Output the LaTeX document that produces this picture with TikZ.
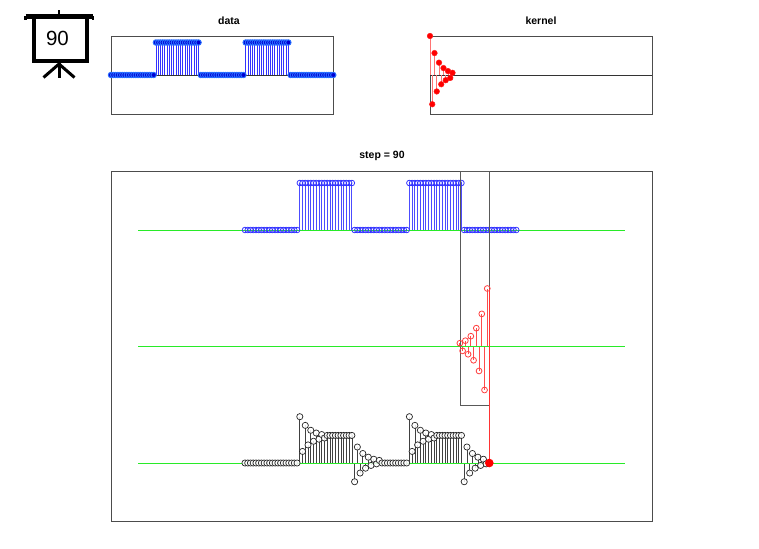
\documentclass[tikz,border=0pt]{standalone}
\usepackage{fontspec}
\setmainfont{Liberation Sans}
\begin{document}
\begin{tikzpicture}[x=1pt,y=-1pt,
  declare function={
    rp(\k)=(1-2*mod(\k,2))*pow(0.75,\k);
    xin(\n)=(\n>20)*(\n<41)+(\n>60)*(\n<81);
    sr(\m)=(\m>-1)*(1-rp(min(max(\m,0),10)+1))/1.75;
    yout(\n)=sr(\n-21)-sr(\n-41)+sr(\n-61)-sr(\n-81);
    xm(\n)=245+(\n-1)*2.74;
  }]
\tikzset{
  axbox/.style={draw=black!70, line width=0.9pt},
  ttl/.style={font=\bfseries\fontsize{10.5}{12}\selectfont, inner sep=0pt},
  dstemtop/.style={draw=blue!80, line width=0.8pt},
  dmarktop/.style={fill={rgb,255:red,0;green,0;blue,210}, draw={rgb,255:red,40;green,110;blue,255}, line width=1pt},
  kstemtop/.style={draw=red!55, line width=0.9pt},
  kmarktop/.style={fill=red, draw=red!90, line width=0.5pt},
  zeroline/.style={draw={rgb,255:red,40;green,235;blue,40}, line width=1pt},
  dstem/.style={draw=blue!70, line width=0.8pt},
  dmark/.style={draw=blue!80, line width=0.8pt},
  kstem/.style={draw=red!70, line width=0.8pt},
  kmark/.style={draw=red!75, line width=0.8pt},
  ostem/.style={draw=black!75, line width=0.7pt},
  omark/.style={draw=black!85, fill=white, fill opacity=0.85, line width=0.7pt},
  icon/.style={draw=black, line width=4pt},
}
\useasboundingbox (0,0) rectangle (759,548);
\fill[white] (0,0) rectangle (759,548);

% ---------- icon ----------
\draw[icon, line width=4.5pt] (25.5,16.3) -- (93,16.3);
\draw[icon, line width=2.5pt] (25.5,16.3) -- (25.5,20);
\draw[icon, line width=2.5pt] (93,16.3) -- (93,20);
\draw[icon, line width=2.5pt] (59,10.5) -- (59,16);
\draw[icon, line width=3.8pt] (33.8,16.3) rectangle (86.8,61.3);
\draw[icon, line width=3pt] (59,62) -- (59,78.5);
\draw[icon, line width=3pt] (59,64) -- (43.5,77.5);
\draw[icon, line width=3pt] (59,64) -- (74.5,77.5);
\node[inner sep=0pt, font=\fontsize{20.5}{22}\selectfont] (iconnum) at (57.5,38) {90};

% ---------- data panel ----------
\node[ttl] (tdata) at (229,21) {data};
\draw[axbox] (111,36) rectangle (333,114);
\draw[black!80, line width=0.9pt] (111,75) -- (333,75);
\foreach \n in {1,...,100}{
  \pgfmathsetmacro\xx{111+(\n-1)*2.245}
  \pgfmathsetmacro\yy{75-32.5*xin(\n)}
  \draw[dstemtop] (\xx,75) -- (\xx,\yy);
}
\foreach \n in {1,...,100}{
  \pgfmathsetmacro\xx{111+(\n-1)*2.245}
  \pgfmathsetmacro\yy{75-32.5*xin(\n)}
  \path[dmarktop] (\xx,\yy) circle[radius=2.7];
}

% ---------- kernel panel ----------
\node[ttl] (tkernel) at (541,21) {kernel};
\draw[axbox] (430,36) rectangle (652,114);
\draw[black!80, line width=0.9pt] (430,75) -- (652,75);
\foreach \j in {0,...,10}{
  \pgfmathsetmacro\xx{430+\j*2.25}
  \pgfmathsetmacro\yy{75-39*rp(\j)}
  \draw[kstemtop] (\xx,75) -- (\xx,\yy);
}
\foreach \j in {0,...,10}{
  \pgfmathsetmacro\xx{430+\j*2.25}
  \pgfmathsetmacro\yy{75-39*rp(\j)}
  \path[kmarktop] (\xx,\yy) circle[radius=2.8];
}

% ---------- main panel ----------
\node[ttl] (tstep) at (382,156) {step = 90};
\draw[axbox] (111,171) rectangle (652,521);

% data stems
\foreach \n in {1,...,100}{
  \pgfmathsetmacro\xx{xm(\n)}
  \pgfmathsetmacro\yy{230-47*xin(\n)}
  \draw[dstem] (\xx,230) -- (\xx,\yy);
}
% output stems
\foreach \n in {1,...,89}{
  \pgfmathsetmacro\xx{xm(\n)}
  \pgfmathsetmacro\yy{463-46.3*yout(\n)}
  \draw[ostem] (\xx,463) -- (\xx,\yy);
}
% kernel stems
\foreach \j in {0,...,10}{
  \pgfmathsetmacro\xx{xm(90-\j)-1.6}
  \pgfmathsetmacro\yy{346.5-58*rp(\j)}
  \draw[kstem] (\xx,346.5) -- (\xx,\yy);
}

% zero lines
\draw[zeroline] (138,230) -- (625,230);
\draw[zeroline] (138,346.5) -- (625,346.5);
\draw[zeroline] (138,463) -- (625,463);

% data markers
\foreach \n in {1,...,100}{
  \pgfmathsetmacro\xx{xm(\n)}
  \pgfmathsetmacro\yy{230-47*xin(\n)}
  \draw[dmark] (\xx,\yy) circle[radius=2.8];
}

% window
\draw[draw=black!65, line width=1pt] (460,171) rectangle (489.8,405);

% kernel markers
\foreach \j in {0,...,10}{
  \pgfmathsetmacro\xx{xm(90-\j)-1.6}
  \pgfmathsetmacro\yy{346.5-58*rp(\j)}
  \draw[kmark] (\xx,\yy) circle[radius=2.9];
}
\coordinate (ktop) at (489.3,288.5);

% output markers
\foreach \n in {1,...,89}{
  \pgfmathsetmacro\xx{xm(\n)}
  \pgfmathsetmacro\yy{463-46.3*yout(\n)}
  \draw[omark] (\xx,\yy) circle[radius=3.1];
}
\coordinate (cur) at (489.3,463);
\draw[red!80, line width=1pt] (ktop) -- (cur);
\fill[red] (cur) circle[radius=4.3];
\end{tikzpicture}
\end{document}
